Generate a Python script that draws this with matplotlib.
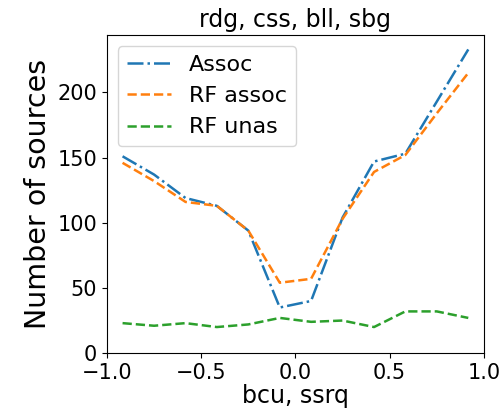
import matplotlib
matplotlib.use('Agg')
import matplotlib.pyplot as plt

# bin centres of the colour index
x = [-0.917, -0.75, -0.583, -0.417, -0.25, -0.083, 0.083, 0.25, 0.417, 0.583, 0.75, 0.917]
assoc = [151, 137, 119, 113, 94, 35, 40, 104, 147, 153, 193, 233]
rf_assoc = [146, 132, 116, 113, 94, 54, 57, 103, 139, 152, 184, 215]
rf_unas = [23, 21, 23, 20, 22, 27, 24, 25, 20, 32, 32, 27]

fig, ax = plt.subplots(figsize=(5.02, 4.13), dpi=100)
fig.subplots_adjust(left=0.213, right=0.964, top=0.915, bottom=0.145)

ax.plot(x, assoc, '-.', color='tab:blue', lw=1.8, label='Assoc')
ax.plot(x, rf_assoc, '--', color='tab:orange', lw=1.8, label='RF assoc')
ax.plot(x, rf_unas, '--', color='tab:green', lw=1.8, label='RF unas')

ax.set_xlim(-1, 1)
ax.set_ylim(0, 244)
ax.set_xticks([-1.0, -0.5, 0.0, 0.5, 1.0])
ax.set_yticks([0, 50, 100, 150, 200])
ax.tick_params(labelsize=15)
ax.set_title('rdg, css, bll, sbg', fontsize=17)
ax.set_xlabel('bcu, ssrq', fontsize=17, labelpad=1)
ax.set_ylabel('Number of sources', fontsize=20.5)
ax.legend(loc='upper left', fontsize=16)

plt.savefig('out.png', dpi=100)
